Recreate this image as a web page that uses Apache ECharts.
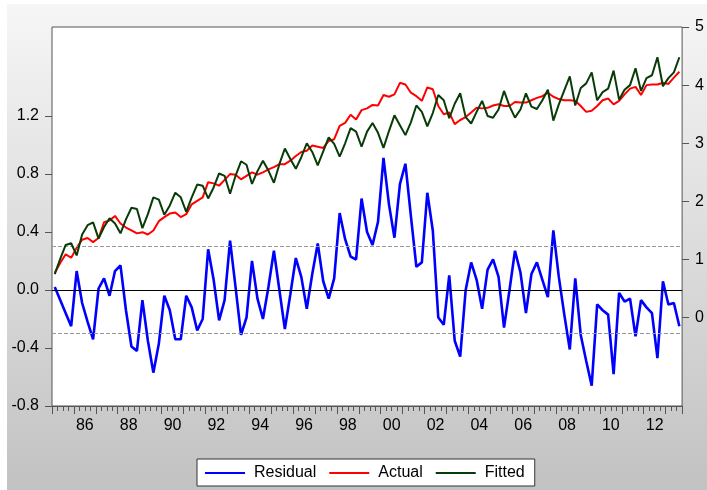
<!DOCTYPE html>
<html><head><meta charset="utf-8">
<script src="https://cdn.jsdelivr.net/npm/echarts@6/dist/echarts.min.js"></script>
<style>html,body{margin:0;padding:0;background:#fff}#c{width:707px;height:490px}</style>
</head><body><div id="c"></div>
<script>
// Quarterly observations 1985Q1 .. 2013Q3
const startYear = 1985;
const nObs = 115;
const categories = [];
for (let i = 0; i < nObs; i++) categories.push((startYear + Math.floor(i / 4)) + 'Q' + (i % 4 + 1));

const residual = [
  0.02,-0.07,-0.16,-0.25, 0.13,-0.09,-0.22,-0.34, 0.01, 0.08,-0.04, 0.13,
  0.17,-0.14,-0.39,-0.42,-0.07,-0.35,-0.57,-0.37,-0.04,-0.14,-0.34,-0.34,
 -0.04,-0.12,-0.28,-0.20, 0.28, 0.07,-0.21,-0.07, 0.34, 0.02,-0.31,-0.19,
  0.20,-0.06,-0.20, 0.02, 0.27, 0.00,-0.27,-0.03, 0.22, 0.09,-0.13, 0.11,
  0.32, 0.06,-0.06, 0.08, 0.53, 0.35, 0.23, 0.21, 0.63, 0.40, 0.31, 0.47,
  0.91, 0.59, 0.36, 0.73, 0.87, 0.51, 0.16, 0.19, 0.67, 0.41,-0.19,-0.24,
  0.10,-0.35,-0.46, 0.00, 0.19, 0.07,-0.13, 0.14, 0.21, 0.09,-0.26, 0.00,
  0.27, 0.12,-0.16, 0.11, 0.19, 0.07,-0.05, 0.41, 0.09,-0.17,-0.41, 0.08,
 -0.31,-0.49,-0.66,-0.10,-0.14,-0.17,-0.58,-0.02,-0.08,-0.06,-0.32,-0.07,
 -0.12,-0.16,-0.47, 0.06,-0.10,-0.09,-0.25
];
const actual = [
  0.77, 0.94, 1.09, 1.03, 1.20, 1.34, 1.37, 1.30, 1.37, 1.64, 1.67, 1.75,
  1.62, 1.55, 1.50, 1.45, 1.47, 1.43, 1.50, 1.66, 1.73, 1.79, 1.81, 1.73,
  1.78, 1.95, 2.01, 2.07, 2.33, 2.31, 2.27, 2.37, 2.47, 2.46, 2.38, 2.44,
  2.50, 2.46, 2.50, 2.55, 2.59, 2.64, 2.64, 2.70, 2.78, 2.85, 2.87, 2.96,
  2.94, 2.92, 3.04, 3.07, 3.30, 3.35, 3.49, 3.41, 3.57, 3.60, 3.66, 3.65,
  3.83, 3.80, 3.84, 4.04, 4.01, 3.87, 3.81, 3.73, 3.96, 3.93, 3.64, 3.50,
  3.53, 3.33, 3.40, 3.45, 3.53, 3.61, 3.60, 3.61, 3.65, 3.67, 3.64, 3.64,
  3.71, 3.70, 3.70, 3.74, 3.78, 3.81, 3.87, 3.80, 3.76, 3.74, 3.74, 3.73,
  3.64, 3.54, 3.56, 3.64, 3.74, 3.77, 3.67, 3.73, 3.84, 3.94, 3.97, 3.83,
  4.00, 4.01, 4.01, 4.04, 4.02, 4.13, 4.23
];
const fitted = [
  0.75, 1.01, 1.25, 1.28, 1.07, 1.43, 1.59, 1.64, 1.36, 1.56, 1.71, 1.62,
  1.45, 1.69, 1.89, 1.87, 1.54, 1.78, 2.07, 2.03, 1.77, 1.93, 2.15, 2.07,
  1.82, 2.07, 2.29, 2.27, 2.05, 2.24, 2.48, 2.44, 2.13, 2.44, 2.69, 2.63,
  2.30, 2.52, 2.70, 2.53, 2.32, 2.64, 2.91, 2.73, 2.56, 2.76, 3.00, 2.85,
  2.62, 2.86, 3.10, 2.99, 2.77, 3.00, 3.26, 3.20, 2.94, 3.20, 3.35, 3.18,
  2.92, 3.21, 3.48, 3.31, 3.14, 3.36, 3.65, 3.54, 3.29, 3.52, 3.83, 3.74,
  3.43, 3.68, 3.86, 3.45, 3.34, 3.54, 3.73, 3.47, 3.44, 3.58, 3.90, 3.64,
  3.44, 3.58, 3.86, 3.63, 3.59, 3.74, 3.92, 3.39, 3.67, 3.91, 4.15, 3.65,
  3.95, 4.03, 4.22, 3.74, 3.88, 3.94, 4.25, 3.75, 3.92, 4.00, 4.29, 3.90,
  4.12, 4.17, 4.48, 3.98, 4.12, 4.22, 4.48
];
const leftTicks = [-0.8, -0.4, 0.0, 0.4, 0.8, 1.2];
const rightTicks = [0, 1, 2, 3, 4, 5];
const bandLevels = [0.3, -0.3];

const FONT = "'Liberation Sans', Arial, sans-serif";
const chart = echarts.init(document.getElementById('c'), null, {renderer: 'canvas'});
chart.setOption({
  animation: false,
  graphic: [{
    type: 'rect', z: -10, silent: true,
    shape: {x: 7, y: 4, width: 700, height: 486},
    style: {fill: new echarts.graphic.LinearGradient(0, 0, 0, 1, [
      {offset: 0, color: '#f6f6f6'}, {offset: 1, color: '#c2c2c2'}])}
  }],
  grid: {left: 52, top: 27, width: 632, height: 379, show: true,
         backgroundColor: '#ffffff', borderColor: '#555', borderWidth: 1},
  legend: {
    left: 197, top: 459, orient: 'horizontal',
    backgroundColor: '#fff', borderColor: '#333', borderWidth: 1,
    padding: [6, 10, 5, 8], itemGap: 13,
    itemWidth: 40, itemHeight: 2, icon: 'rect',
    textStyle: {fontFamily: FONT, fontSize: 16, color: '#000', padding: [0, 0, 0, 4]},
    data: ['Residual', 'Actual', 'Fitted']
  },
  xAxis: [{
    type: 'category', data: categories, boundaryGap: true, position: 'bottom',
    axisLine: {show: true, onZero: false, lineStyle: {color: '#555'}},
    axisTick: {show: true, interval: 0, length: 5, lineStyle: {color: '#555'}},
    axisLabel: {
      interval: (idx) => idx % 8 === 6,
      formatter: (v) => v.substring(2, 4),
      fontFamily: FONT, fontSize: 16, color: '#000', margin: 12,
      padding: [0, 5.5, 0, 0]
    },
    splitLine: {show: false}
  }, {
    type: 'category', data: categories, boundaryGap: true, position: 'bottom',
    axisLine: {show: false, onZero: false},
    axisTick: {show: true, interval: (idx) => idx % 4 === 0, length: 8, lineStyle: {color: '#555'}},
    axisLabel: {show: false},
    splitLine: {show: false}
  }],
  yAxis: [{
    type: 'value', position: 'left', min: -0.8, max: 1.8126,
    axisLine: {show: false, onZero: false},
    axisTick: {show: true, customValues: leftTicks, length: 7, lineStyle: {color: '#555'}},
    axisLabel: {customValues: leftTicks, formatter: (v) => v.toFixed(1),
      fontFamily: FONT, fontSize: 16, color: '#000', margin: 13},
    splitLine: {show: false}
  }, {
    type: 'value', position: 'right', min: -1.52, max: 5,
    axisLine: {show: false, onZero: false},
    axisTick: {show: true, customValues: rightTicks, length: 7, lineStyle: {color: '#555'}},
    axisLabel: {customValues: rightTicks, formatter: (v) => String(v),
      fontFamily: FONT, fontSize: 16, color: '#000', margin: 13},
    splitLine: {show: false}
  }],
  series: [{
    name: 'Residual', type: 'line', xAxisIndex: 0, yAxisIndex: 0,
    data: residual, color: '#0000ff', showSymbol: false, symbol: 'none',
    lineStyle: {color: '#0000ff', width: 2.6},
    markLine: {
      silent: true, symbol: 'none', label: {show: false},
      data: [
        {yAxis: 0, lineStyle: {color: '#000', width: 1, type: 'solid'}},
        {yAxis: bandLevels[0], lineStyle: {color: '#999', width: 1, type: [4, 2]}},
        {yAxis: bandLevels[1], lineStyle: {color: '#999', width: 1, type: [4, 2]}}
      ]
    },
    z: 3
  }, {
    name: 'Actual', type: 'line', xAxisIndex: 0, yAxisIndex: 1,
    data: actual, color: '#ff0000', showSymbol: false, symbol: 'none',
    lineStyle: {color: '#ff0000', width: 2}, z: 4
  }, {
    name: 'Fitted', type: 'line', xAxisIndex: 0, yAxisIndex: 1,
    data: fitted, color: '#073b07', showSymbol: false, symbol: 'none',
    lineStyle: {color: '#073b07', width: 2}, z: 5
  }]
});
</script></body></html>
